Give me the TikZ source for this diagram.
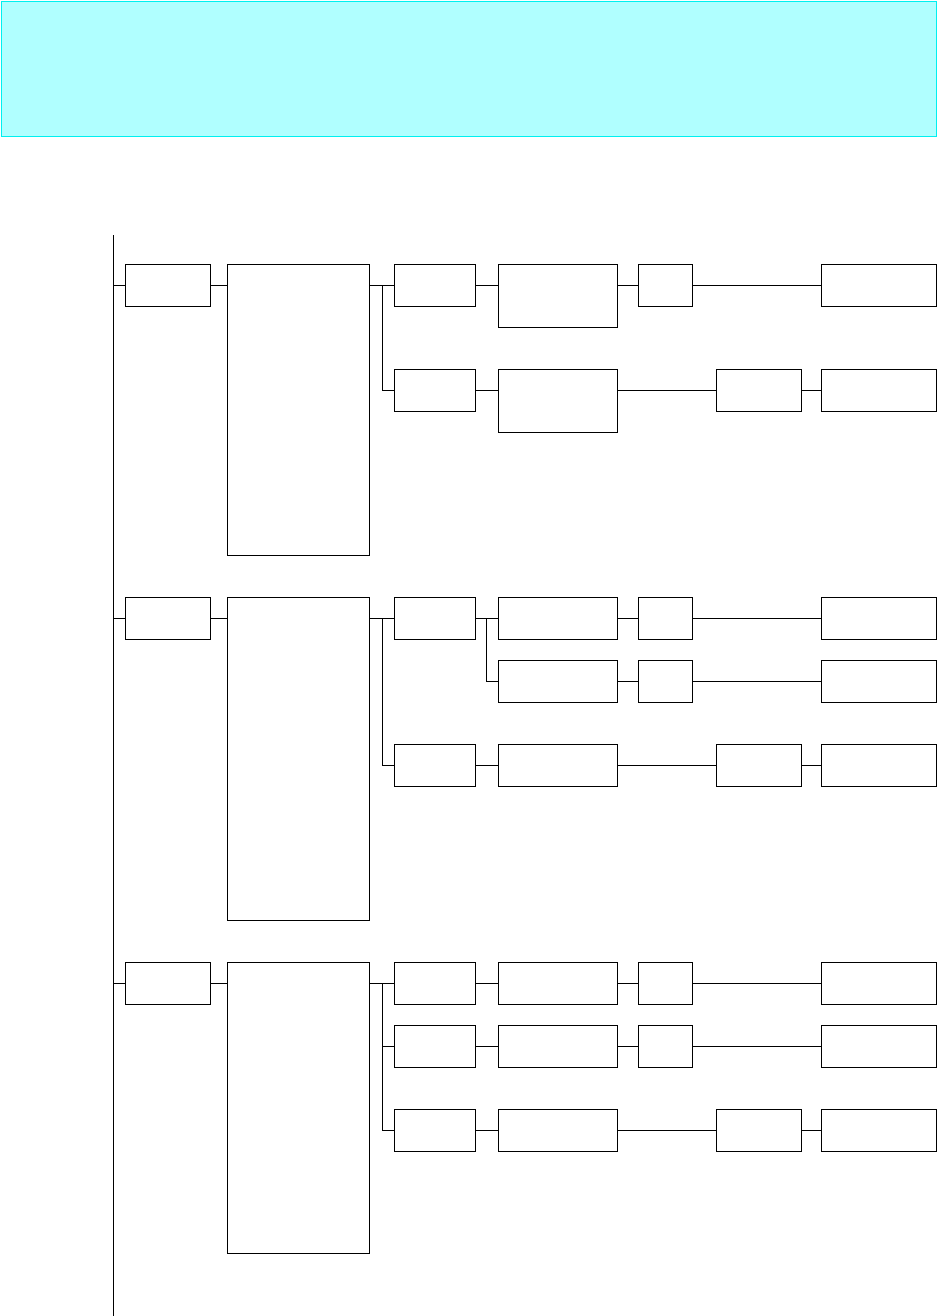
\documentclass[tikz,border=0pt]{standalone}
\usepackage{tikz}
\usetikzlibrary{positioning, calc}
\definecolor{headfill}{HTML}{B0FFFF}
\definecolor{headline}{HTML}{00F0F0}

\begin{document}
\begin{tikzpicture}[
    x=1pt, y=-1pt,
    box/.style={rectangle, draw=black, line width=1pt, inner sep=0pt, outer sep=0pt, anchor=north west, minimum height=42pt},
    unitbox/.style={box, minimum width=85pt},
    listbox/.style={box, minimum width=142pt},
    partbox/.style={box, minimum width=81pt},
    infobox/.style={box, minimum width=119pt},
    tagbox/.style={box, minimum width=54pt},
    midbox/.style={box, minimum width=85pt},
    endbox/.style={box, minimum width=115pt},
    header/.style={rectangle, draw=headline, fill=headfill, line width=1.4pt, inner sep=0pt, anchor=north west, minimum width=935pt, minimum height=135pt},
    link/.style={line width=1pt, black}
]
\useasboundingbox (0,0) rectangle (937,1316);

% Header
\node[header] (head) at (0.7,0.7) {};

% Spine
\coordinate (top) at (113,235);
\coordinate (bot) at (113,1316);
\draw[link] (top) -- (bot);

% Section 1
\node[unitbox] (s1) at (125,264) {};
\node[listbox, minimum height=291pt] (b1) at (227,264) {};
\node[partbox] (c11) at (394,264) {};
\node[partbox] (c12) at (394,369) {};
\node[infobox, minimum height=63pt] (d11) at (498,264) {};
\node[infobox, minimum height=63pt] (d12) at (498,369) {};
\node[tagbox] (e11) at (638,264) {};
\node[endbox] (f11) at (821,264) {};
\node[midbox] (g12) at (716,369) {};
\node[endbox] (f12) at (821,369) {};
\coordinate (j1) at (382,285);

% Section 2
\node[unitbox] (s2) at (125,597) {};
\node[listbox, minimum height=323pt] (b2) at (227,597) {};
\node[partbox] (c21) at (394,597) {};
\node[partbox] (c22) at (394,744) {};
\node[infobox] (d21) at (498,597) {};
\node[infobox] (d22) at (498,660) {};
\node[infobox] (d23) at (498,744) {};
\node[tagbox] (e21) at (638,597) {};
\node[tagbox] (e22) at (638,660) {};
\node[endbox] (f21) at (821,597) {};
\node[endbox] (f22) at (821,660) {};
\node[midbox] (g23) at (716,744) {};
\node[endbox] (f23) at (821,744) {};
\coordinate (j2) at (382,618);
\coordinate (k2) at (486,618);

% Section 3
\node[unitbox] (s3) at (125,962) {};
\node[listbox, minimum height=291pt] (b3) at (227,962) {};
\node[partbox] (c31) at (394,962) {};
\node[partbox] (c32) at (394,1025) {};
\node[partbox] (c33) at (394,1109) {};
\node[infobox] (d31) at (498,962) {};
\node[infobox] (d32) at (498,1025) {};
\node[infobox] (d33) at (498,1109) {};
\node[tagbox] (e31) at (638,962) {};
\node[tagbox] (e32) at (638,1025) {};
\node[endbox] (f31) at (821,962) {};
\node[endbox] (f32) at (821,1025) {};
\node[midbox] (g33) at (716,1109) {};
\node[endbox] (f33) at (821,1109) {};
\coordinate (j3) at (382,983);

% Lines, section 1
\draw[link] (s1.west -| top) -- (s1.west);
\draw[link] (s1.east) -- (s1.east -| b1.west);
\draw[link] (c11.west -| b1.east) -- (c11.west);
\draw[link] (j1) |- (c12.west);
\draw[link] (c11.east) -- (c11.east -| d11.west);
\draw[link] (c12.east) -- (c12.east -| d12.west);
\draw[link] (e11.west -| d11.east) -- (e11.west);
\draw[link] (e11.east) -- (f11.west);
\draw[link] (g12.west -| d12.east) -- (g12.west);
\draw[link] (g12.east) -- (f12.west);

% Lines, section 2
\draw[link] (s2.west -| top) -- (s2.west);
\draw[link] (s2.east) -- (s2.east -| b2.west);
\draw[link] (c21.west -| b2.east) -- (c21.west);
\draw[link] (j2) |- (c22.west);
\draw[link] (c21.east) -- (d21.west);
\draw[link] (k2) |- (d22.west);
\draw[link] (d21.east) -- (e21.west);
\draw[link] (e21.east) -- (f21.west);
\draw[link] (d22.east) -- (e22.west);
\draw[link] (e22.east) -- (f22.west);
\draw[link] (c22.east) -- (d23.west);
\draw[link] (d23.east) -- (g23.west);
\draw[link] (g23.east) -- (f23.west);

% Lines, section 3
\draw[link] (s3.west -| top) -- (s3.west);
\draw[link] (s3.east) -- (s3.east -| b3.west);
\draw[link] (c31.west -| b3.east) -- (c31.west);
\draw[link] (j3) |- (c32.west);
\draw[link] (j3) |- (c33.west);
\draw[link] (c31.east) -- (d31.west);
\draw[link] (c32.east) -- (d32.west);
\draw[link] (c33.east) -- (d33.west);
\draw[link] (d31.east) -- (e31.west);
\draw[link] (e31.east) -- (f31.west);
\draw[link] (d32.east) -- (e32.west);
\draw[link] (e32.east) -- (f32.west);
\draw[link] (d33.east) -- (g33.west);
\draw[link] (g33.east) -- (f33.west);

\end{tikzpicture}
\end{document}
